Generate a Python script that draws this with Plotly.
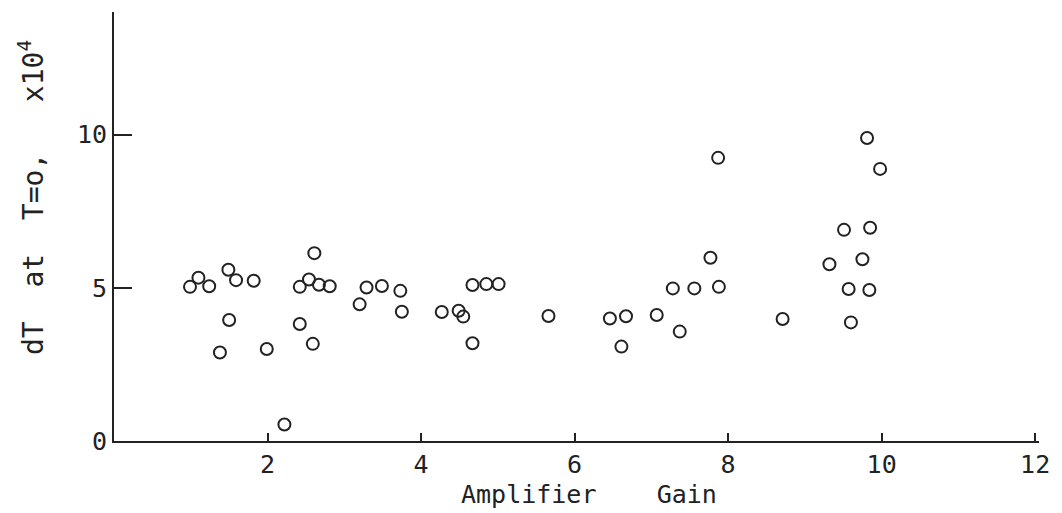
import plotly.graph_objects as go

# Amplifier gain (x) and dT at T=0 (x10^4) (y)
gain = [0.99, 1.10, 1.24, 1.49, 1.59, 1.82, 1.50, 1.38, 1.99, 2.22,
        2.61, 2.42, 2.54, 2.67, 2.81, 2.42, 2.59, 3.20, 3.29, 3.49,
        3.73, 3.75, 4.27, 4.49, 4.55, 4.67, 4.85, 5.01, 4.67, 5.66,
        7.87, 9.81, 9.98, 9.51, 9.85, 7.77, 9.32, 9.75, 7.28, 7.56,
        7.88, 9.57, 9.84, 6.46, 6.67, 7.07, 7.37, 8.71, 9.60, 6.61]
dT = [5.03, 5.33, 5.05, 5.59, 5.25, 5.23, 3.95, 2.89, 3.00, 0.54,
      6.13, 5.03, 5.27, 5.10, 5.05, 3.82, 3.17, 4.46, 5.01, 5.06,
      4.90, 4.22, 4.21, 4.25, 4.06, 5.09, 5.12, 5.12, 3.19, 4.08,
      9.24, 9.89, 8.88, 6.89, 6.96, 5.98, 5.77, 5.93, 4.98, 4.98,
      5.03, 4.96, 4.93, 4.00, 4.07, 4.11, 3.57, 3.98, 3.87, 3.08]

x_ticks = [2, 4, 6, 8, 10, 12]
y_ticks = [0, 5, 10]

INK = "#222222"
FONT = "DejaVu Sans Mono"

fig = go.Figure()
fig.add_trace(go.Scatter(
    x=gain, y=dT, mode="markers",
    marker=dict(symbol="circle-open", size=12, color=INK,
                line=dict(width=2, color=INK)),
    showlegend=False, hoverinfo="x+y",
))

fig.update_layout(
    width=1062, height=513,
    margin=dict(l=114, r=21, t=12, b=72),
    paper_bgcolor="white", plot_bgcolor="white",
    font=dict(family=FONT, size=25, color=INK),
    xaxis=dict(range=[0, 12.05], tickvals=x_ticks, ticktext=[str(v) for v in x_ticks],
               showgrid=False, zeroline=False, showline=True, linecolor=INK, linewidth=2,
               ticks="inside", ticklen=8, tickwidth=2, tickcolor=INK,
               tickfont=dict(family=FONT, size=25, color=INK)),
    yaxis=dict(range=[0, 14], tickvals=y_ticks, ticktext=[str(v) for v in y_ticks],
               showgrid=False, zeroline=False, showline=True, linecolor=INK, linewidth=2,
               ticks="inside", ticklen=18, tickwidth=2, tickcolor=INK,
               tickfont=dict(family=FONT, size=25, color=INK)),
    annotations=[
        dict(text="Amplifier\u00a0\u00a0\u00a0\u00a0Gain", xref="paper", yref="paper",
             x=0.5, y=0, xshift=12, yshift=-53, xanchor="center", yanchor="middle",
             showarrow=False, font=dict(family=FONT, size=25, color=INK)),
        dict(text="dT\u00a0\u00a0at\u00a0\u00a0T=o,\u00a0\u00a0\u00a0x10<sup>4</sup>",
             xref="paper", yref="paper", textangle=-90,
             x=0, y=(441 - 198) / 429, xshift=-83, xanchor="center", yanchor="middle",
             showarrow=False, font=dict(family=FONT, size=28, color=INK)),
    ],
)

fig.write_html("out.html")
